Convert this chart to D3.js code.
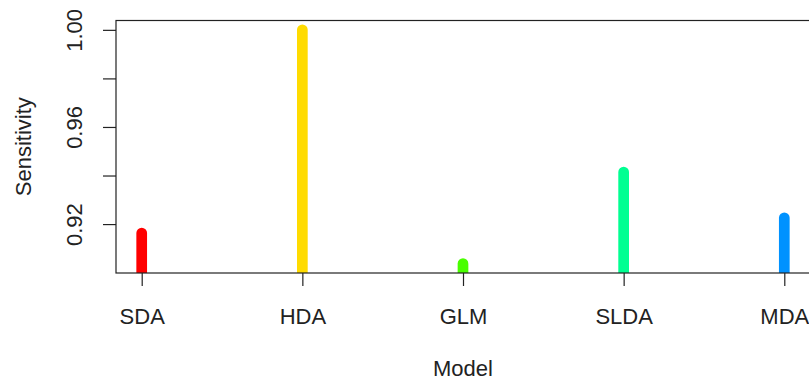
<!DOCTYPE html>
<html><head><meta charset="utf-8">
<script src="https://cdn.jsdelivr.net/npm/d3@7"></script>
<style>body{margin:0;background:#fff}svg{display:block;font-family:"Liberation Sans",Arial,sans-serif}</style>
</head><body>
<svg id="c" width="809" height="380"></svg>
<script>
const models = ["SDA","HDA","GLM","SLDA","MDA"];
const sensitivity = [0.9163, 1.0, 0.9037, 0.9414, 0.9226];
const colors = ["#FF0000","#FFDB00","#49FF00","#00FF92","#0092FF"];
const yTicks = [0.92, 0.94, 0.96, 0.98, 1.00];
const yTickLabels = ["0.92", "", "0.96", "", "1.00"];

const svg = d3.select("#c");
const L = 116, R = 810, T = 20.5, B = 273;
const mn = d3.min(sensitivity), mx = d3.max(sensitivity), r = mx - mn;
const x = d3.scalePoint().domain(models).range([L, R]).padding(0.16);
const y = d3.scaleLinear().domain([mn - 0.04*r, mx + 0.04*r]).range([B, T]);

svg.append("defs").append("clipPath").attr("id","pc")
  .append("rect").attr("x",L).attr("y",T).attr("width",R-L).attr("height",B-T);

svg.append("g").attr("clip-path","url(#pc)").selectAll("line").data(models).join("line")
  .attr("x1", d => x(d)).attr("x2", d => x(d))
  .attr("y1", (d,i) => y(sensitivity[i])).attr("y2", B + 20)
  .attr("stroke", (d,i) => colors[i]).attr("stroke-width", 10.7).attr("stroke-linecap","round");

svg.append("rect").attr("x",L).attr("y",T).attr("width",R-L).attr("height",B-T)
  .attr("fill","none").attr("stroke","#222").attr("stroke-width",1.2);

// x axis
const xa = svg.append("g").attr("transform",`translate(0,${B})`)
  .call(d3.axisBottom(x).tickSize(13).tickPadding(22).tickSizeOuter(0));
xa.select(".domain").remove();
xa.selectAll("line").attr("stroke","#222").attr("stroke-width",1.2);
xa.selectAll("text").attr("font-size",22).attr("fill","#222").attr("font-family","Liberation Sans, Arial, sans-serif");

// y axis
const ya = svg.append("g").attr("transform",`translate(${L},0)`)
  .call(d3.axisLeft(y).tickValues(yTicks).tickSize(13).tickFormat((d,i)=>yTickLabels[i]).tickSizeOuter(0));
ya.select(".domain").remove();
ya.selectAll("line").attr("stroke","#222").attr("stroke-width",1.2);
ya.selectAll("text").attr("font-size",22).attr("fill","#222")
  .attr("font-family","Liberation Sans, Arial, sans-serif")
  .attr("x",null).attr("dy",null)
  .attr("transform", `translate(${82 - L},0) rotate(-90)`)
  .attr("text-anchor","middle");

svg.append("text").attr("x",(L+R)/2).attr("y",376).attr("text-anchor","middle")
  .attr("font-size",22).attr("fill","#222").text("Model");
svg.append("text").attr("transform",`translate(31,${(T+B)/2}) rotate(-90)`).attr("text-anchor","middle")
  .attr("font-size",22).attr("fill","#222").text("Sensitivity");
</script>
</body></html>
